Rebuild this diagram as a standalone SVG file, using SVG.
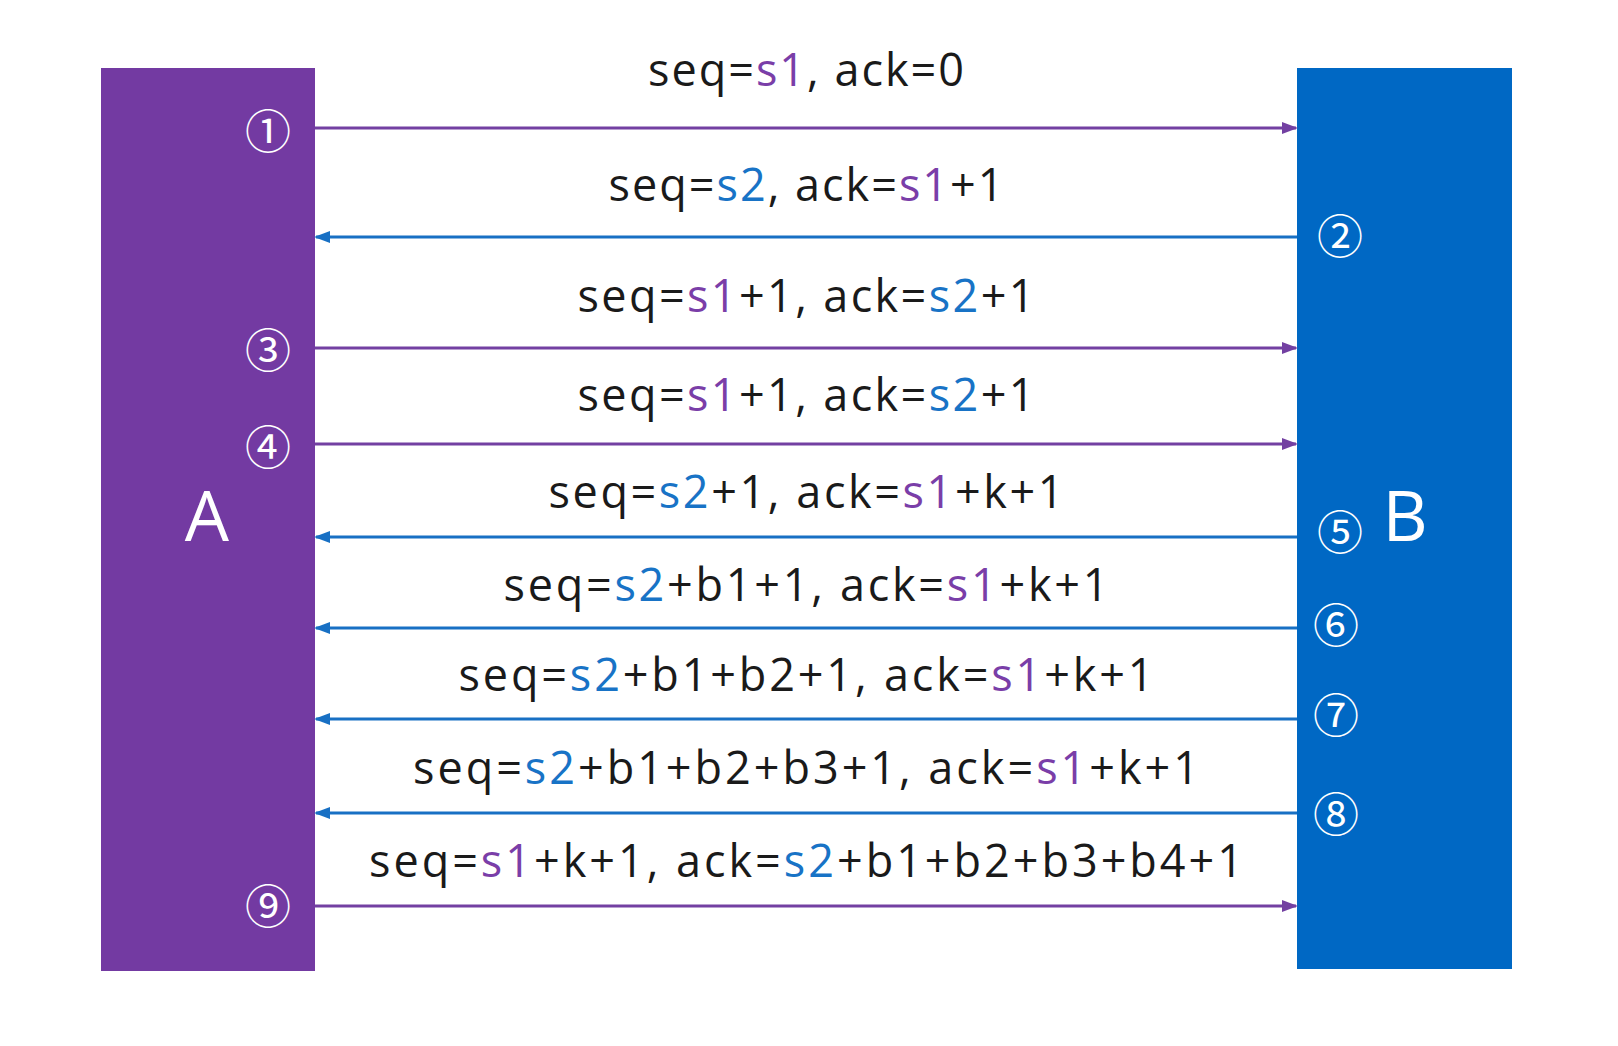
<svg xmlns="http://www.w3.org/2000/svg" width="1618" height="1046" viewBox="0 0 1618 1046">
<defs>
<style>
.lbl{font-family:"Open Sans","Noto Sans",sans-serif;font-size:45px;fill:#1a1a1a;text-anchor:middle}
.p{fill:#7a3ea8}
.b{fill:#1873c6}
.num{font-family:"Noto Sans CJK SC","Noto Sans",sans-serif;font-size:46px;fill:#fff;text-anchor:middle}
.big{font-family:"Open Sans","Noto Sans",sans-serif;font-size:70px;fill:#fff;text-anchor:middle}
.ap{stroke:#7340a2;stroke-width:3;fill:none;marker-end:url(#mp)}
.ab{stroke:#1870c4;stroke-width:3;fill:none;marker-end:url(#mb)}
</style>
<marker id="mp" markerWidth="16" markerHeight="12" refX="14" refY="6" orient="auto" markerUnits="userSpaceOnUse"><path d="M0,0 L16,6 L0,12 Z" fill="#7340a2"/></marker>
<marker id="mb" markerWidth="16" markerHeight="12" refX="14" refY="6" orient="auto" markerUnits="userSpaceOnUse"><path d="M0,0 L16,6 L0,12 Z" fill="#1870c4"/></marker>
</defs>
<rect width="1618" height="1046" fill="#fff"/>
<g id="nodeA">
<rect x="101" y="68" width="214" height="903" fill="#733aa2"/>
<text class="big" x="207" y="541">A</text>
</g>
<g id="nodeB">
<rect x="1297" y="68" width="215" height="901" fill="#0068c4"/>
<text class="big" x="1405" y="541">B</text>
</g>
<g id="steps">
<text class="num" x="268" y="148">①</text>
<text class="num" x="1340" y="253">②</text>
<text class="num" x="268" y="367">③</text>
<text class="num" x="268" y="464">④</text>
<text class="num" x="1340" y="549">⑤</text>
<text class="num" x="1336" y="642">⑥</text>
<text class="num" x="1336" y="732">⑦</text>
<text class="num" x="1336" y="831">⑧</text>
<text class="num" x="268" y="923">⑨</text>
</g>
<g id="connectors">
<line class="ap" x1="315" y1="128" x2="1296" y2="128"/>
<line class="ab" x1="1297" y1="237" x2="316" y2="237"/>
<line class="ap" x1="315" y1="348" x2="1296" y2="348"/>
<line class="ap" x1="315" y1="444" x2="1296" y2="444"/>
<line class="ab" x1="1297" y1="537" x2="316" y2="537"/>
<line class="ab" x1="1297" y1="628" x2="316" y2="628"/>
<line class="ab" x1="1297" y1="719" x2="316" y2="719"/>
<line class="ab" x1="1297" y1="813" x2="316" y2="813"/>
<line class="ap" x1="315" y1="906" x2="1296" y2="906"/>
</g>
<g id="labels">
<text class="lbl" x="806" y="86" textLength="316" lengthAdjust="spacing">seq=<tspan class="p">s1</tspan>, ack=0</text>
<text class="lbl" x="806" y="201" textLength="395" lengthAdjust="spacing">seq=<tspan class="b">s2</tspan>, ack=<tspan class="p">s1</tspan>+1</text>
<text class="lbl" x="806" y="312" textLength="457" lengthAdjust="spacing">seq=<tspan class="p">s1</tspan>+1, ack=<tspan class="b">s2</tspan>+1</text>
<text class="lbl" x="806" y="411" textLength="457" lengthAdjust="spacing">seq=<tspan class="p">s1</tspan>+1, ack=<tspan class="b">s2</tspan>+1</text>
<text class="lbl" x="806" y="508" textLength="515" lengthAdjust="spacing">seq=<tspan class="b">s2</tspan>+1, ack=<tspan class="p">s1</tspan>+k+1</text>
<text class="lbl" x="806" y="601" textLength="605" lengthAdjust="spacing">seq=<tspan class="b">s2</tspan>+b1+1, ack=<tspan class="p">s1</tspan>+k+1</text>
<text class="lbl" x="806" y="691" textLength="695" lengthAdjust="spacing">seq=<tspan class="b">s2</tspan>+b1+b2+1, ack=<tspan class="p">s1</tspan>+k+1</text>
<text class="lbl" x="806" y="784" textLength="786" lengthAdjust="spacing">seq=<tspan class="b">s2</tspan>+b1+b2+b3+1, ack=<tspan class="p">s1</tspan>+k+1</text>
<text class="lbl" x="806" y="877" textLength="874" lengthAdjust="spacing">seq=<tspan class="p">s1</tspan>+k+1, ack=<tspan class="b">s2</tspan>+b1+b2+b3+b4+1</text>
</g>
</svg>
